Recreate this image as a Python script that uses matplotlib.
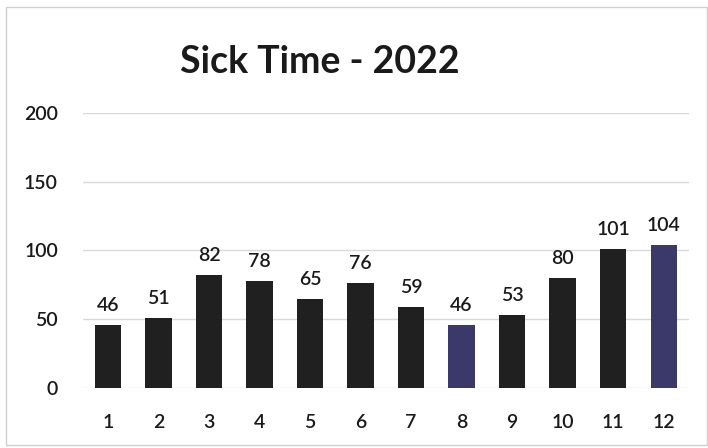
import matplotlib.pyplot as plt
from matplotlib.patches import Rectangle

months = list(range(1, 13))
sick_hours = [46, 51, 82, 78, 65, 76, 59, 46, 53, 80, 101, 104]
highlight = [8, 12]

plt.rcParams['font.family'] = ['Lato', 'DejaVu Sans']
plt.rcParams['font.weight'] = 'semibold'

fig = plt.figure(figsize=(7.08, 4.48), dpi=100)
ax = fig.add_axes([0.117, 0.134, 0.856, 0.614])

colors = ['#3a396a' if m in highlight else '#202020' for m in months]
bars = ax.bar(months, sick_hours, width=0.52, color=colors, zorder=3)

for b, v in zip(bars, sick_hours):
    ax.text(b.get_x() + b.get_width() / 2, v + 8, str(v), ha='center', va='bottom',
            fontsize=14, color='#1a1a1a')

ax.set_xlim(0.5, 12.5)
ax.set_ylim(0, 200)
ax.set_yticks([0, 50, 100, 150, 200])
ax.set_xticks(months)
ax.grid(axis='y', color='#d9d9d9', linewidth=1, zorder=0)
for s in ax.spines.values():
    s.set_visible(False)
ax.tick_params(length=0, labelsize=14, colors='#1a1a1a')
ax.tick_params(axis='x', pad=19)
ax.tick_params(axis='y', pad=18)

fig.text(0.452, 0.862, 'Sick Time - 2022', ha='center', va='center',
         fontsize=27, fontweight='bold', color='#1a1a1a')

fig.patches.append(Rectangle((0.009, 0.006), 0.99, 0.978, transform=fig.transFigure,
                             fill=False, edgecolor='#d0d0d0', linewidth=1))

fig.savefig('out.png', dpi=100)
